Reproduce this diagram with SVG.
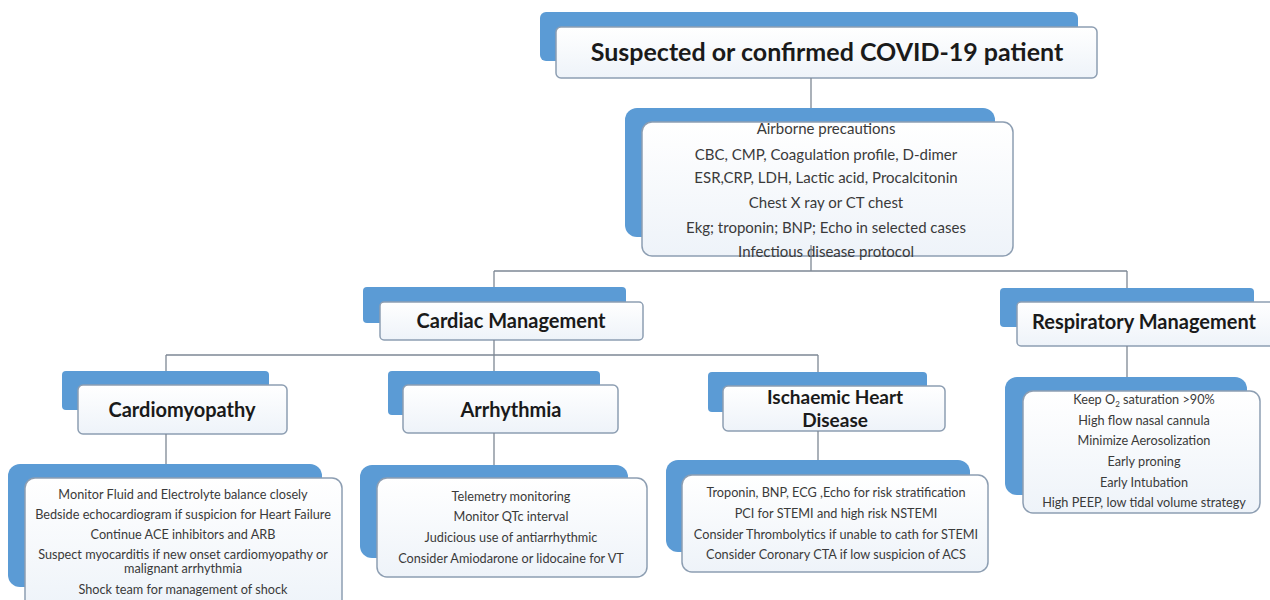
<svg xmlns="http://www.w3.org/2000/svg" width="1270" height="600" viewBox="0 0 1270 600">
<defs>
<linearGradient id="wg" x1="0" y1="0" x2="0" y2="1">
<stop offset="0" stop-color="#ffffff"/>
<stop offset="1" stop-color="#eef3f9"/>
</linearGradient>
</defs>
<style>
.blue{fill:#5b9bd5;}
.white{fill:url(#wg);stroke:#8d9eb2;stroke-width:1.5;}
.h{font-family:Lato,"Liberation Sans",sans-serif;font-weight:bold;fill:#1a1a1a;text-anchor:middle;}
.t{font-family:Lato,"Liberation Sans",sans-serif;fill:#3a3a3a;text-anchor:middle;font-size:12.7px;}
.t15{font-size:15px;}
.c{stroke:#7d8794;stroke-width:1.3;fill:none;}
</style>
<rect width="1270" height="600" fill="#ffffff"/>

<g id="node-top">
<rect class="blue" x="540" y="12" width="538" height="49" rx="6"/>
<rect class="white" x="556" y="27" width="541" height="51" rx="5"/>
<text class="h" x="827" y="61" font-size="25">Suspected or confirmed COVID-19 patient</text>
</g>

<g id="node-initial">
<rect class="blue" x="625" y="108" width="370" height="129" rx="12"/>
<rect class="white" x="642" y="122" width="371" height="134" rx="10"/>
<text class="t t15" x="826" y="134">Airborne precautions</text>
<text class="t t15" x="826" y="160">CBC, CMP, Coagulation profile, D-dimer</text>
<text class="t t15" x="826" y="183">ESR,CRP, LDH, Lactic acid, Procalcitonin</text>
<text class="t t15" x="826" y="208">Chest X ray or CT chest</text>
<text class="t t15" x="826" y="233">Ekg; troponin; BNP; Echo in selected cases</text>
<text class="t t15" x="826" y="257">Infectious disease protocol</text>
</g>

<g id="node-cardiac">
<rect class="blue" x="363" y="287" width="263" height="36" rx="4"/>
<rect class="white" x="380" y="302" width="263" height="38" rx="4"/>
<text class="h" x="511" y="328" font-size="20">Cardiac Management</text>
</g>

<g id="node-respiratory">
<rect class="blue" x="1000" y="288" width="254" height="39" rx="4"/>
<rect class="white" x="1017" y="302" width="262" height="44" rx="4"/>
<text class="h" x="1144" y="329" font-size="20">Respiratory Management</text>
</g>

<g id="node-cardiomyopathy">
<rect class="blue" x="62" y="371" width="207" height="39" rx="4"/>
<rect class="white" x="78" y="385" width="209" height="49" rx="5"/>
<text class="h" x="182" y="417" font-size="20">Cardiomyopathy</text>
</g>

<g id="node-arrhythmia">
<rect class="blue" x="388" y="371" width="212" height="44" rx="4"/>
<rect class="white" x="403" y="385" width="215" height="48" rx="5"/>
<text class="h" x="511" y="417" font-size="20">Arrhythmia</text>
</g>

<g id="node-ihd">
<rect class="blue" x="708" y="372" width="219" height="40" rx="4"/>
<rect class="white" x="723" y="386" width="222" height="45" rx="5"/>
<text class="h" x="835" y="404" font-size="19">Ischaemic Heart</text>
<text class="h" x="835" y="427" font-size="19">Disease</text>
</g>

<g id="node-cardiomyopathy-mgmt">
<rect class="blue" x="8" y="464" width="314" height="123" rx="12"/>
<rect class="white" x="25" y="478" width="317" height="132" rx="10"/>
<text class="t" x="183" y="499">Monitor Fluid and Electrolyte balance closely</text>
<text class="t" x="183" y="519">Bedside echocardiogram if suspicion for Heart Failure</text>
<text class="t" x="183" y="539">Continue ACE inhibitors and ARB</text>
<text class="t" x="183" y="559">Suspect myocarditis if new onset cardiomyopathy or</text>
<text class="t" x="183" y="573">malignant arrhythmia</text>
<text class="t" x="183" y="594">Shock team for management of shock</text>
</g>

<g id="node-arrhythmia-mgmt">
<rect class="blue" x="360" y="465" width="268" height="93" rx="12"/>
<rect class="white" x="377" y="478" width="270" height="99" rx="10"/>
<text class="t" x="511" y="501">Telemetry monitoring</text>
<text class="t" x="511" y="521">Monitor QTc interval</text>
<text class="t" x="511" y="542">Judicious use of antiarrhythmic</text>
<text class="t" x="511" y="563">Consider Amiodarone or lidocaine for VT</text>
</g>

<g id="node-ihd-mgmt">
<rect class="blue" x="666" y="460" width="304" height="92" rx="12"/>
<rect class="white" x="682" y="475" width="306" height="97" rx="10"/>
<text class="t" x="836" y="497">Troponin, BNP, ECG ,Echo for risk stratification</text>
<text class="t" x="836" y="518">PCI for STEMI and high risk NSTEMI</text>
<text class="t" x="836" y="539">Consider Thrombolytics if unable to cath for STEMI</text>
<text class="t" x="836" y="559">Consider Coronary CTA if low suspicion of ACS</text>
</g>

<g id="node-resp-mgmt">
<rect class="blue" x="1005" y="377" width="242" height="118" rx="12"/>
<rect class="white" x="1023" y="391" width="237" height="122" rx="10"/>
<text class="t" x="1144" y="404">Keep O<tspan font-size="8" dy="3">2</tspan><tspan dy="-3"> saturation &gt;90%</tspan></text>
<text class="t" x="1144" y="425">High flow nasal cannula</text>
<text class="t" x="1144" y="445">Minimize Aerosolization</text>
<text class="t" x="1144" y="466">Early proning</text>
<text class="t" x="1144" y="487">Early Intubation</text>
<text class="t" x="1144" y="507">High PEEP, low tidal volume strategy</text>
</g>

<g id="connectors">
<path class="c" d="M811 78V108"/>
<path class="c" d="M811 245V271"/>
<path class="c" d="M494 271H1127"/>
<path class="c" d="M494 271V287"/>
<path class="c" d="M1127 271V288"/>
<path class="c" d="M494 340V355"/>
<path class="c" d="M166 355H818"/>
<path class="c" d="M166 355V371"/>
<path class="c" d="M494 355V371"/>
<path class="c" d="M818 355V372"/>
<path class="c" d="M166 434V464"/>
<path class="c" d="M494 433V465"/>
<path class="c" d="M818 431V460"/>
<path class="c" d="M1127 346V377"/>
</g>
</svg>
